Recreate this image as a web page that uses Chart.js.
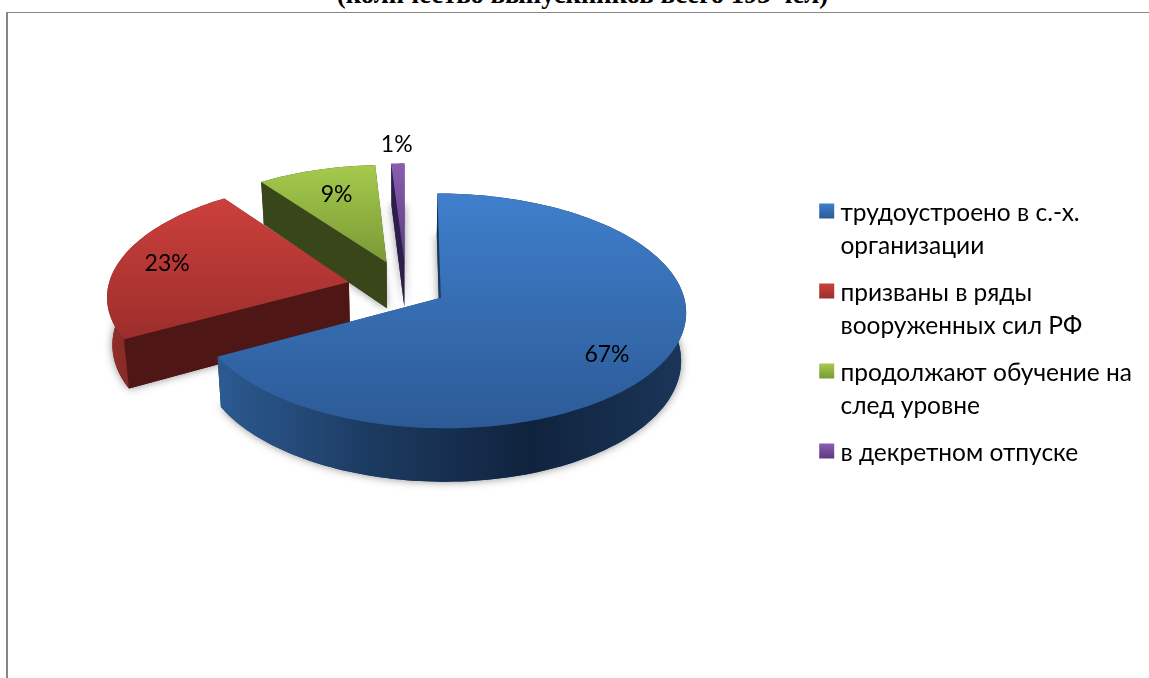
<!DOCTYPE html>
<html>
<head>
<meta charset="utf-8">
<script src="https://cdn.jsdelivr.net/npm/chart.js@4"></script>
<style>
    html, body { margin: 0; padding: 0; background: #fff; overflow: hidden; }
    #page { position: relative; width: 1149px; height: 678px; overflow: hidden; }
    #heading {
        position: absolute; left: 0; width: 1165px; top: -21px; text-align: center;
        font: bold 26.7px "Liberation Serif", serif; color: #000; white-space: nowrap;
    }
    #frame {
        position: absolute; left: 6px; top: 12px; right: -4px; bottom: -4px;
        border-top: 1.5px solid #868686; border-left: 2px solid #868686;
    }
    canvas { position: absolute; left: 0; top: 0; }
</style>
</head>
<body>
<div id="page">
    <div id="heading">(количество выпускников всего 193 чел)</div>
    <div id="frame"></div>
    <canvas id="chart" width="1149" height="678"></canvas>
</div>
<script>
const categories = [
    ['трудоустроено в с.-х.', 'организации'],
    ['призваны в ряды', 'вооруженных сил РФ'],
    ['продолжают обучение на', 'след уровне'],
    ['в декретном отпуске']
];
const shares = [67, 23, 9, 1];
const percentLabels = ['67%', '23%', '9%', '1%'];

const explode = [40, 59, 59, 59];
const labelReach = [0.8, 0.79, 0.69, 1.2];
const labelTurn = [0.113, -0.026, 0, 0];
const topLight = ['#3f7fcc', '#cc403c', '#a5ca4c', '#8b5db1'];
const topDark = ['#2c5a96', '#9c2e2b', '#7a9a36', '#5c3a80'];
const innerWall = ['#1c3a60', '#4e1614', '#38461a', '#2c1e4b'];
const outerWall = [
    ['#2c5a92', '#1c3a60', '#10233e', '#1a3658'],
    ['#93302c', '#7c2320', '#5e1a18', '#4e1614'],
    ['#38461a', '#38461a', '#38461a', '#33401a'],
    ['#2c1e4b', '#2c1e4b', '#2c1e4b', '#2c1e4b']
];

// pie lies on a plane seen at an angle, slightly in perspective
const tilt = 0.472;
const depth = 0.111;
const wallHeight = 47;
const wallShrink = 0.982;
const planeShiftY = -49;

function projector(el) {
    const cx = el.x, cy = el.y + planeShiftY, R = el.outerRadius;
    return function (u, v, low) {
        const s = 1 / (1 - depth * v);
        let x = cx + u * R * s;
        let y = cy + v * R * tilt * s;
        if (low) {
            x = cx + (x - cx) * wallShrink;
            y += wallHeight * s;
        }
        return [x, y];
    };
}

function trace(ctx, pts) {
    ctx.beginPath();
    pts.forEach((p, i) => i ? ctx.lineTo(p[0], p[1]) : ctx.moveTo(p[0], p[1]));
    ctx.closePath();
}

function drawSlice(ctx, el, i) {
    const p = projector(el);
    const R = el.outerRadius;
    const mid = (el.startAngle + el.endAngle) / 2;
    const ou = Math.cos(mid) * explode[i] / R;
    const ov = Math.sin(mid) * explode[i] / R;
    const rim = [];
    const steps = Math.max(6, Math.round((el.endAngle - el.startAngle) * 40));
    for (let n = 0; n <= steps; n++) {
        const a = el.startAngle + (el.endAngle - el.startAngle) * n / steps;
        rim.push([ou + Math.cos(a), ov + Math.sin(a)]);
    }
    const hub = [ou, ov];
    const up = (q) => p(q[0], q[1], false);
    const down = (q) => p(q[0], q[1], true);

    // soft shadow round the whole solid
    const outline = [up(hub)].concat(rim.map(up));
    ctx.save();
    ctx.shadowColor = 'rgba(0,0,0,0.45)';
    ctx.shadowBlur = 8;
    ctx.fillStyle = innerWall[i];
    trace(ctx, [down(hub)].concat(rim.map(down)));
    ctx.fill();
    ctx.restore();

    // flat walls at both cut edges
    ctx.fillStyle = innerWall[i];
    [rim[0], rim[rim.length - 1]].forEach((q) => {
        trace(ctx, [up(hub), up(q), down(q), down(hub)]);
        ctx.fill();
    });

    // curved wall
    const xs = rim.map((q) => up(q)[0]);
    const grad = ctx.createLinearGradient(Math.min(...xs), 0, Math.max(...xs), 0);
    outerWall[i].forEach((c, n) => grad.addColorStop(n / 3, c));
    ctx.fillStyle = grad;
    trace(ctx, rim.map(up).concat(rim.slice().reverse().map(down)));
    ctx.fill();

    // top
    const ys = outline.map((q) => q[1]);
    const topGrad = ctx.createLinearGradient(0, Math.min(...ys), 0, Math.max(...ys));
    topGrad.addColorStop(0, topLight[i]);
    topGrad.addColorStop(1, topDark[i]);
    ctx.fillStyle = topGrad;
    trace(ctx, outline);
    ctx.fill();
}

const solidPie = {
    id: 'solidPie',
    beforeDatasetDraw(chart, args) {
        const ctx = chart.ctx;
        const arcs = args.meta.data;
        [3, 2, 1, 0].forEach((i) => drawSlice(ctx, arcs[i], i));

        ctx.fillStyle = '#000';
        ctx.font = '23px Lato, Carlito, "Open Sans", sans-serif';
        ctx.textAlign = 'center';
        ctx.textBaseline = 'middle';
        arcs.forEach((el, i) => {
            const mid = (el.startAngle + el.endAngle) / 2;
            const R = el.outerRadius;
            const a = mid + labelTurn[i];
            const u = Math.cos(mid) * explode[i] / R + Math.cos(a) * labelReach[i];
            const v = Math.sin(mid) * explode[i] / R + Math.sin(a) * labelReach[i];
            const pos = projector(el)(u, v, false);
            ctx.fillText(percentLabels[i], pos[0], pos[1] - 2);
        });
        return false;
    },
    afterDraw(chart) {
        // legend swatches sit a bit closer to the text than the library puts them
        const ctx = chart.ctx;
        chart.legend.legendHitBoxes.forEach((box, i) => {
            const x = box.left + 6, y = box.top + 3;
            const g = ctx.createLinearGradient(0, y, 0, y + 15);
            g.addColorStop(0, topLight[i]);
            g.addColorStop(1, topDark[i]);
            ctx.fillStyle = g;
            ctx.fillRect(x, y, 15, 15);
        });
    }
};

new Chart(document.getElementById('chart').getContext('2d'), {
    type: 'pie',
    data: {
        labels: categories,
        datasets: [{
            data: shares,
            backgroundColor: topLight,
            borderWidth: 0,
            offset: explode
        }]
    },
    options: {
        responsive: false,
        animation: false,
        radius: 241,
        layout: { padding: { left: 13, right: 7, top: 0, bottom: 4 } },
        plugins: {
            tooltip: { enabled: false },
            legend: {
                position: 'right',
                align: 'center',
                labels: {
                    boxWidth: 15,
                    boxHeight: 15,
                    padding: 14,
                    color: '#000',
                    font: { family: 'Lato, Carlito, "Open Sans", sans-serif', size: 24.5, lineHeight: 1.347 },
                    generateLabels(chart) {
                        return chart.data.labels.map((text, i) => ({
                            text: text,
                            fillStyle: 'rgba(0,0,0,0)',
                            strokeStyle: 'rgba(0,0,0,0)',
                            lineWidth: 0,
                            index: i
                        }));
                    }
                }
            }
        }
    },
    plugins: [solidPie]
});
</script>
</body>
</html>
